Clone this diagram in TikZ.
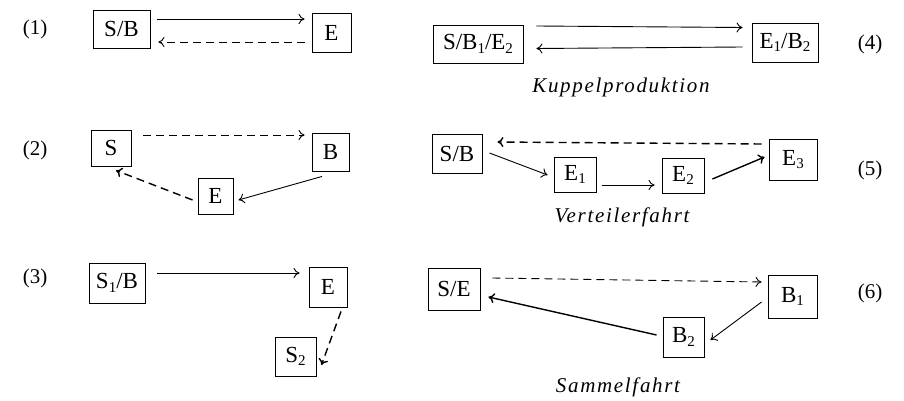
\documentclass[tikz,border=0pt]{standalone}
\usepackage{fontspec}
\setmainfont{Liberation Serif}
\usetikzlibrary{arrows.meta}
\newcommand\sbs[1]{\raisebox{-0.35ex}{\fontsize{15}{15}\selectfont #1}}
\begin{document}
\begin{tikzpicture}[x=1pt,y=-1pt,
  box/.style={draw,line width=0.9pt,inner sep=0pt,font=\fontsize{23}{26}\selectfont},
  num/.style={font=\fontsize{21}{24}\selectfont},
  captext/.style={font=\fontsize{21}{24}\selectfont\itshape\addfontfeatures{LetterSpace=8}},
  arr/.style={line width=0.9pt,-{To[length=6pt,width=10pt]}},
  thk/.style={line width=1.4pt},
  dsh/.style={dash pattern=on 8pt off 5pt}]
\useasboundingbox (0,0) rectangle (904,401);
% (1)
\node[num] (n1) at (35,29) {(1)};
\node[box,minimum width=57pt,minimum height=38pt] (a1) at (121.5,29) {S/B};
\node[box,minimum width=39pt,minimum height=39pt] (b1) at (331.5,32.5) {E};
\draw[arr] ([shift={(7pt,10pt)}]a1.east) -- ([shift={(-7pt,13.5pt)}]b1.west);
\draw[arr,dsh] ([shift={(-7pt,-9.5pt)}]b1.west) -- ([shift={(8pt,-13pt)}]a1.east);
% (2)
\node[num] (n2) at (35,150) {(2)};
\node[box,minimum width=40pt,minimum height=36pt] (s2) at (111,148) {S};
\node[box,minimum width=37pt,minimum height=38pt] (b2) at (330.5,152) {B};
\node[box,minimum width=35pt,minimum height=36pt] (e2) at (215.5,196) {E};
\draw[arr,dsh] ([shift={(12pt,13pt)}]s2.east) -- ([shift={(-7pt,17pt)}]b2.west);
\draw[arr,dsh,thk] ([shift={(-5pt,-4pt)}]e2.west) -- ([shift={(5pt,-4pt)}]s2.south);
\draw[arr] ([shift={(-8.5pt,-5pt)}]b2.south) -- ([shift={(5pt,-4pt)}]e2.east);
% (3)
\node[num] (n3) at (35,278) {(3)};
\node[box,minimum width=56pt,minimum height=40pt] (s3) at (117,283) {S\sbs{1}/B};
\node[box,minimum width=38pt,minimum height=40pt] (e3) at (328,287) {E};
\node[box,minimum width=41pt,minimum height=39pt] (t3) at (295.5,356.5) {S\sbs{2}};
\draw[arr] ([shift={(12pt,10pt)}]s3.east) -- ([shift={(-9pt,14pt)}]e3.west);
\draw[arr,dsh,thk] ([shift={(13pt,-4pt)}]e3.south) -- ([shift={(5pt,-8.5pt)}]t3.east);
% (4)
\node[num] (n4) at (870,44) {(4)};
\node[box,minimum width=90pt,minimum height=38pt] (a4) at (478,44) {S/B\sbs{1}/E\sbs{2}};
\node[box,minimum width=66pt,minimum height=39pt] (b4) at (785,42.5) {E\sbs{1}/B\sbs{2}};
\draw[arr] ([shift={(13pt,18pt)}]a4.east) -- ([shift={(-9pt,15pt)}]b4.west);
\draw[arr] ([shift={(-9pt,-4.5pt)}]b4.west) -- ([shift={(13pt,-4.5pt)}]a4.east);
\node[captext] (c4) at (621,87) {Kuppelproduktion};
% (5)
\node[num] (n5) at (870,170) {(5)};
\node[box,minimum width=50pt,minimum height=39pt] (a5) at (457,153.5) {S/B};
\node[box,minimum width=42pt,minimum height=35pt] (e51) at (575,174.5) {E\sbs{1}};
\node[box,minimum width=42pt,minimum height=35pt] (e52) at (683,175.5) {E\sbs{2}};
\node[box,minimum width=48pt,minimum height=41pt] (e53) at (793,159.5) {E\sbs{3}};
\draw[arr,dsh,thk] ([shift={(-7pt,15.5pt)}]e53.west) -- ([shift={(15pt,11.5pt)}]a5.east);
\draw[arr] ([shift={(7pt,0.5pt)}]a5.east) -- ([shift={(-6pt,-0.5pt)}]e51.west);
\draw[arr] ([shift={(6pt,-10.5pt)}]e51.east) -- ([shift={(-7pt,-9.5pt)}]e52.west);
\draw[arr,thk] ([shift={(8pt,-3.5pt)}]e52.east) -- ([shift={(-4pt,2.5pt)}]e53.west);
\node[captext] (c5) at (622,217) {Verteilerfahrt};
% (6)
\node[num] (n6) at (870,293) {(6)};
\node[box,minimum width=52pt,minimum height=42pt] (a6) at (454,289) {S/E};
\node[box,minimum width=49pt,minimum height=43pt] (b61) at (792.5,296.5) {B\sbs{1}};
\node[box,minimum width=41pt,minimum height=40pt] (b62) at (683.5,337) {B\sbs{2}};
\draw[arr,dsh] ([shift={(12pt,11pt)}]a6.east) -- ([shift={(-6pt,14.5pt)}]b61.west);
\draw[arr] ([shift={(-6pt,-5.5pt)}]b61.west) -- ([shift={(6pt,-3pt)}]b62.east);
\draw[arr,thk] ([shift={(-6pt,2pt)}]b62.west) -- ([shift={(8pt,-8pt)}]a6.east);
\node[captext] (c6) at (618,387) {Sammelfahrt};
\end{tikzpicture}
\end{document}
